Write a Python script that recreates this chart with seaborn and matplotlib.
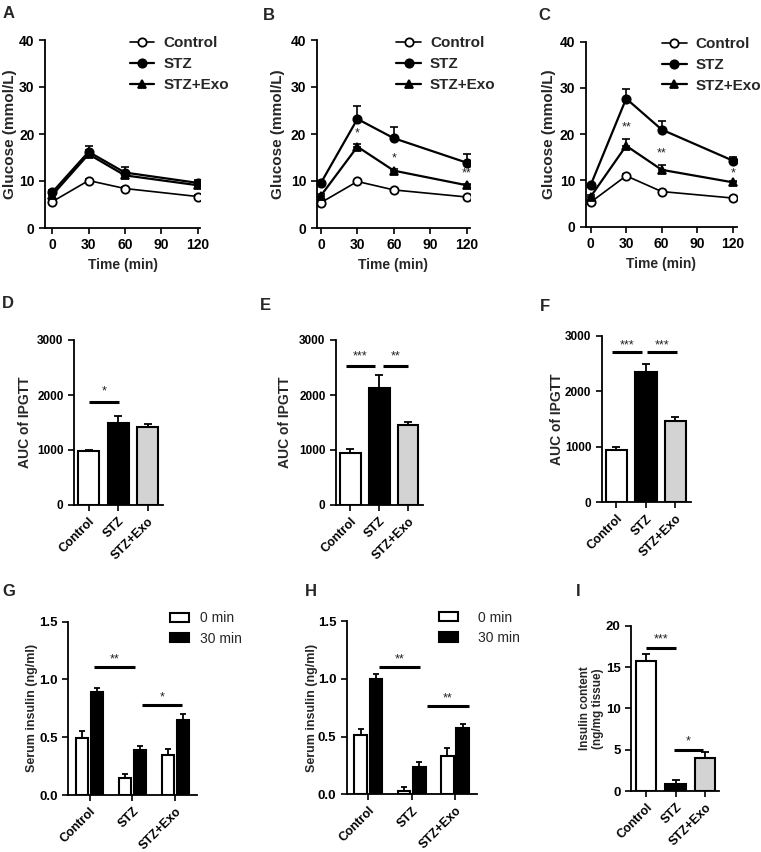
import numpy as np
import pandas as pd
import matplotlib
matplotlib.use('Agg')
import matplotlib.pyplot as plt
from matplotlib.patches import Patch
import seaborn as sns

# ---------------- data ----------------
times = [0, 30, 60, 120]
groups = ['Control', 'STZ', 'STZ+Exo']

# A-C: IPGTT glucose (mmol/L)
a_ctrl = [5.6, 10.1, 8.4, 6.7]
a_ctrl_err = [0.3, 0.3, 0.3, 0.3]
a_stz = [7.6, 16.2, 11.8, 9.6]
a_stz_err = [0.5, 1.2, 1.1, 0.7]
a_exo = [7.0, 15.7, 11.2, 9.1]
a_exo_err = [0.3, 0.8, 0.6, 0.4]

b_ctrl = [5.4, 9.9, 8.1, 6.6]
b_ctrl_err = [0.3, 0.3, 0.3, 0.3]
b_stz = [9.6, 23.2, 19.1, 13.9]
b_stz_err = [0.4, 2.8, 2.3, 1.9]
b_exo = [6.9, 17.3, 12.2, 9.1]
b_exo_err = [0.3, 0.5, 0.4, 0.3]
b_stars = ['*', '*', '**']
b_star_t = [30, 60, 120]
b_star_y = [20.2, 14.9, 11.7]

c_ctrl = [5.3, 11.0, 7.6, 6.2]
c_ctrl_err = [0.3, 0.3, 0.3, 0.3]
c_stz = [9.0, 27.7, 21.0, 14.3]
c_stz_err = [0.3, 2.0, 1.9, 0.8]
c_exo = [6.5, 17.5, 12.3, 9.6]
c_exo_err = [0.3, 1.4, 1.0, 0.3]
c_stars = ['**', '**', '*']
c_star_t = [30, 60, 120]
c_star_y = [21.4, 15.9, 11.5]

# D-F: AUC of IPGTT
d_auc = [985, 1500, 1412]
d_err = [20, 110, 65]
e_auc = [951, 2133, 1455]
e_err = [60, 230, 48]
f_auc = [944, 2357, 1467]
f_err = [48, 144, 66]

# G-H: serum insulin (ng/ml) at 0 and 30 min
g_0 = [0.497, 0.145, 0.347]
g_0_err = [0.06, 0.034, 0.053]
g_30 = [0.89, 0.39, 0.65]
g_30_err = [0.032, 0.038, 0.05]
h_0 = [0.51, 0.03, 0.33]
h_0_err = [0.055, 0.03, 0.07]
h_30 = [1.0, 0.24, 0.575]
h_30_err = [0.04, 0.04, 0.035]

# I: insulin content (ng/mg tissue)
i_vals = [15.7, 0.85, 3.95]
i_err = [0.9, 0.5, 0.75]

# significance bars: (x0, x1, y_line, y_star, label)
d_sig = [(0.0, 1.03, 1878, 2070, '*')]
e_sig = [(-0.17, 0.86, 2533, 2709, '***'), (1.14, 2.0, 2533, 2709, '**')]
f_sig = [(-0.16, 0.87, 2705, 2838, '***'), (1.04, 2.04, 2705, 2838, '***')]
g_sig = [(0.11, 1.05, 1.11, 1.176, '**'), (1.22, 2.16, 0.78, 0.847, '*')]
h_sig = [(0.24, 1.18, 1.10, 1.165, '**'), (1.36, 2.32, 0.765, 0.83, '**')]
i_sig = [(-0.01, 1.0, 17.26, 18.3, '***'), (0.94, 1.94, 4.96, 5.97, '*')]

# ---------------- style ----------------
sns.set_style('ticks')
plt.rcParams['font.family'] = ['Liberation Sans', 'DejaVu Sans']
plt.rcParams['font.weight'] = 'bold'
plt.rcParams['axes.labelweight'] = 'bold'
plt.rcParams['axes.linewidth'] = 1.3
plt.rcParams['xtick.major.width'] = 1.2
plt.rcParams['ytick.major.width'] = 1.2
plt.rcParams['xtick.major.size'] = 4
plt.rcParams['ytick.major.size'] = 4
plt.rcParams['xtick.color'] = 'black'
plt.rcParams['ytick.color'] = 'black'
plt.rcParams['axes.edgecolor'] = 'black'

W, H = 761, 852
fig = plt.figure(figsize=(W / 100, H / 100), dpi=100)


def rect(l, r, t, b):
    return [l / W, 1 - b / H, (r - l) / W, (b - t) / H]


def letter(x, y, s):
    fig.text(x / W, 1 - y / H, s, fontsize=12, fontweight='bold', ha='center', va='center')


def stars(ax, xs, ys, labels):
    for x, y, s in zip(xs, ys, labels):
        ax.text(x, y, s, ha='center', va='center', fontsize=9, fontweight='normal', color='#222222')


def sig_bars(ax, sig):
    for x0, x1, yl, ys, s in sig:
        ax.plot([x0, x1], [yl, yl], color='black', lw=2.2, solid_capstyle='butt')
        ax.text((x0 + x1) / 2, ys, s, ha='center', va='center', fontsize=9,
                fontweight='normal', color='#222222')


def glucose_panel(box, xlim, ctrl, ctrl_e, stz, stz_e, exo, exo_e, ylab_x, leg_x, leg_y):
    ax = fig.add_axes(rect(*box))
    series = [('Control', ctrl, ctrl_e, 'o', 'white', 1.2),
              ('STZ', stz, stz_e, 'o', 'black', 1.6),
              ('STZ+Exo', exo, exo_e, '^', 'black', 1.6)]
    for name, vals, err, mk, fc, lw in series:
        ax.errorbar(times, vals, yerr=[np.zeros(len(err)), err], fmt='none',
                    ecolor='black', elinewidth=1.2, capsize=3, capthick=1.2, zorder=2)
        sns.lineplot(x=times, y=vals, ax=ax, color='black', lw=lw, marker=mk,
                     markersize=6, markerfacecolor=fc, markeredgecolor='black',
                     markeredgewidth=1.3, label=name, zorder=3)
    ax.set_xlim(*xlim)
    ax.set_ylim(0, 40)
    ax.set_xticks([0, 30, 60, 90, 120])
    ax.set_yticks([0, 10, 20, 30, 40])
    ax.tick_params(labelsize=10)
    ax.set_xlabel('Time (min)', fontsize=10)
    ax.set_ylabel('Glucose (mmol/L)', fontsize=11, va='center')
    ax.yaxis.set_label_coords(ylab_x, 0.5)
    sns.despine(ax=ax)
    ax.legend(loc='upper left', bbox_to_anchor=(leg_x, leg_y), frameon=False,
              fontsize=11, handlelength=1.6, handletextpad=0.6, labelspacing=0.45,
              borderpad=0, borderaxespad=0)
    return ax


def auc_panel(box, vals, err, sig, ylab_x):
    ax = fig.add_axes(rect(*box))
    sns.barplot(x=groups, y=vals, hue=groups, palette=['white', 'black', '#d3d3d3'],
                legend=False, edgecolor='black', linewidth=1.5, width=0.72,
                errorbar=None, ax=ax)
    ax.errorbar(range(3), vals, yerr=[np.zeros(3), err], fmt='none', ecolor='black',
                elinewidth=1.3, capsize=3, capthick=1.3, zorder=0)
    sig_bars(ax, sig)
    ax.set_ylim(0, 3000)
    ax.set_xlim(-0.5, 2.52)
    ax.set_yticks([0, 1000, 2000, 3000])
    ax.tick_params(axis='y', labelsize=8.5)
    ax.tick_params(axis='x', labelsize=9)
    plt.setp(ax.get_xticklabels(), rotation=45, ha='right', rotation_mode='anchor')
    ax.set_ylabel('AUC of IPGTT', fontsize=10, va='center')
    ax.yaxis.set_label_coords(ylab_x, 0.5)
    sns.despine(ax=ax)
    return ax


def insulin_panel(box, v0, e0, v30, e30, sig, ylab_x, leg_x, leg_pad):
    ax = fig.add_axes(rect(*box))
    df = pd.DataFrame({'group': groups * 2,
                       'time': ['0 min'] * 3 + ['30 min'] * 3,
                       'value': v0 + v30})
    sns.barplot(data=df, x='group', y='value', hue='time', palette=['white', 'black'],
                edgecolor='black', linewidth=1.5, width=0.7, gap=0.17,
                errorbar=None, ax=ax)
    for cont, err in zip(ax.containers, [e0, e30]):
        xs = [p.get_x() + p.get_width() / 2 for p in cont]
        ys = [p.get_height() for p in cont]
        ax.errorbar(xs, ys, yerr=[np.zeros(3), err], fmt='none', ecolor='black',
                    elinewidth=1.3, capsize=2.5, capthick=1.3, zorder=0)
    sig_bars(ax, sig)
    ax.set_ylim(0, 1.5)
    ax.set_xlim(-0.5, 2.5)
    ax.set_yticks([0, 0.5, 1.0, 1.5])
    ax.set_yticklabels(['0.0', '0.5', '1.0', '1.5'])
    ax.tick_params(axis='y', labelsize=9.5)
    ax.tick_params(axis='x', labelsize=9)
    plt.setp(ax.get_xticklabels(), rotation=45, ha='right', rotation_mode='anchor')
    ax.set_xlabel('')
    ax.set_ylabel('Serum insulin (ng/ml)', fontsize=9, va='center')
    ax.yaxis.set_label_coords(ylab_x, 0.5)
    sns.despine(ax=ax)
    handles = [Patch(facecolor='white', edgecolor='black', lw=1.5),
               Patch(facecolor='black', edgecolor='black', lw=1.5)]
    ax.legend(handles, ['0 min', '30 min'], loc='upper left', bbox_to_anchor=(leg_x, 1.06),
              frameon=False, prop={'size': 10, 'weight': 'normal'}, handlelength=1.4,
              handleheight=0.65, handletextpad=leg_pad, labelspacing=0.45,
              borderpad=0, borderaxespad=0)
    return ax


# ---------------- A-C ----------------
glucose_panel((45, 200, 40, 228), (-6, 122), a_ctrl, a_ctrl_err, a_stz, a_stz_err,
              a_exo, a_exo_err, -0.226, 0.548, 1.02)
axB = glucose_panel((316.7, 470, 40, 228), (-3.5, 122.7), b_ctrl, b_ctrl_err, b_stz, b_stz_err,
                    b_exo, b_exo_err, -0.25, 0.52, 1.02)
stars(axB, b_star_t, b_star_y, b_stars)
axC = glucose_panel((585.7, 737.3, 41.7, 226.7), (-4.2, 123.9), c_ctrl, c_ctrl_err, c_stz, c_stz_err,
                    c_exo, c_exo_err, -0.24, 0.505, 1.025)
stars(axC, c_star_t, c_star_y, c_stars)

# ---------------- D-F ----------------
auc_panel((74, 163, 340, 505), d_auc, d_err, d_sig, -0.55)
auc_panel((336, 423, 340, 505), e_auc, e_err, e_sig, -0.59)
auc_panel((601.7, 690.7, 336, 502.3), f_auc, f_err, f_sig, -0.50)

# ---------------- G-H ----------------
insulin_panel((68.3, 196.7, 621.7, 795), g_0, g_0_err, g_30, g_30_err, g_sig, -0.28, 0.79, 0.8)
insulin_panel((346.7, 476.7, 621, 794.3), h_0, h_0_err, h_30, h_30_err, h_sig, -0.27, 0.71, 1.4)

# ---------------- I ----------------
axI = fig.add_axes(rect(631, 719.3, 625.7, 791))
sns.barplot(x=groups, y=i_vals, hue=groups, palette=['white', 'black', '#d3d3d3'],
            legend=False, edgecolor='black', linewidth=1.5, width=0.7,
            errorbar=None, ax=axI)
axI.errorbar(range(3), i_vals, yerr=[np.zeros(3), i_err], fmt='none', ecolor='black',
             elinewidth=1.3, capsize=3, capthick=1.3, zorder=0)
sig_bars(axI, i_sig)
axI.set_ylim(0, 20)
axI.set_xlim(-0.51, 2.48)
axI.set_yticks([0, 5, 10, 15, 20])
axI.tick_params(axis='y', labelsize=9.5)
axI.tick_params(axis='x', labelsize=9)
plt.setp(axI.get_xticklabels(), rotation=45, ha='right', rotation_mode='anchor')
axI.set_ylabel('Insulin content\n(ng/mg tissue)', fontsize=8.5, va='center', linespacing=1.1)
axI.yaxis.set_label_coords(-0.45, 0.5)
sns.despine(ax=axI)

# panel letters
for x, y, s in [(9, 14, 'A'), (269, 15, 'B'), (544, 16, 'C'),
                (8, 304, 'D'), (265, 306, 'E'), (545, 307, 'F'),
                (9, 592, 'G'), (311, 592, 'H'), (578, 592, 'I')]:
    letter(x, y, s)

plt.savefig('out.png', dpi=100)
